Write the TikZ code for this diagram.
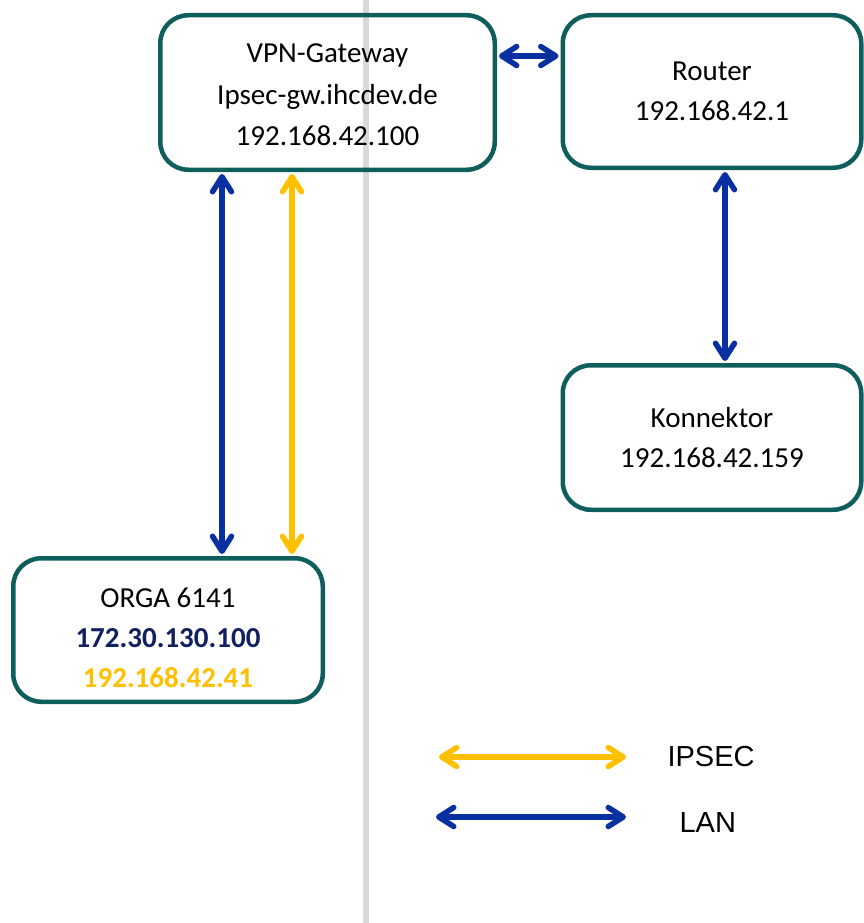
\documentclass[tikz,border=0pt]{standalone}
\usepackage{fontspec}
\setmainfont{Carlito}
\newfontfamily\arialfont{Liberation Sans}
\usetikzlibrary{arrows.meta}
\definecolor{boxteal}{RGB}{14,94,92}
\definecolor{lanblue}{RGB}{8,48,160}
\definecolor{ipsecyellow}{RGB}{255,192,0}
\definecolor{navytext}{RGB}{16,32,96}
\definecolor{divider}{RGB}{217,217,217}
\tikzset{
  devbox/.style={draw=boxteal, line width=4.5pt, rounded corners=28pt, align=center,
    font=\fontsize{29}{40}\selectfont, inner sep=0pt},
  conn/.style={line width=5.5pt, {Straight Barb[length=15pt,width=19pt,round]}-{Straight Barb[length=15pt,width=19pt,round]}, shorten <=2pt, shorten >=2pt},
  lan/.style={conn, draw=lanblue},
  ipsec/.style={conn, draw=ipsecyellow},
  legendtext/.style={font=\arialfont\fontsize{29}{34}\selectfont, anchor=west}
}
\begin{document}
\begin{tikzpicture}[x=1pt,y=-1pt]
\useasboundingbox (0,0) rectangle (863,923);
% divider
\fill[divider] (362.5,0) rectangle (368.5,923);
% boxes
\node[devbox, font=\fontsize{29}{41.5}\selectfont, minimum width=334.5pt, minimum height=154.5pt] (vpn) at (327.5,92.5)
  {\rule{0pt}{24pt}VPN-Gateway\\Ipsec-gw.ihcdev.de\\192.168.42.100};
\node[devbox, minimum width=298.5pt, minimum height=152.5pt] (router) at (712,91.5)
  {Router\\192.168.42.1};
\node[devbox, minimum width=298.5pt, minimum height=144.5pt] (konn) at (712,437.5)
  {Konnektor\\192.168.42.159};
\node[devbox, minimum width=309.5pt, minimum height=143.5pt] (orga) at (168,630)
  {\rule{0pt}{36pt}ORGA 6141\\\textbf{\color{navytext}172.30.130.100}\\\textbf{\color{ipsecyellow}192.168.42.41}};
% connectors
\draw[lan] (vpn.east |- 0,56) -- (router.west |- 0,56);
\draw[lan] (vpn.south -| 222,0) -- (orga.north -| 222,0);
\draw[ipsec] (vpn.south -| 292,0) -- (orga.north -| 292,0);
\draw[lan] (router.south -| 725,0) -- (konn.north -| 725,0);
% legend
\coordinate (ya) at (439,757);
\coordinate (yb) at (626,757);
\coordinate (ba) at (436,817);
\coordinate (bb) at (626,817);
\draw[ipsec, shorten <=0pt, shorten >=0pt] (ya) -- (yb);
\draw[lan, shorten <=0pt, shorten >=0pt] (ba) -- (bb);
\node[legendtext] (lipsec) at (664,757) {IPSEC};
\node[legendtext] (llan) at (676,823) {LAN};
\end{tikzpicture}
\end{document}
